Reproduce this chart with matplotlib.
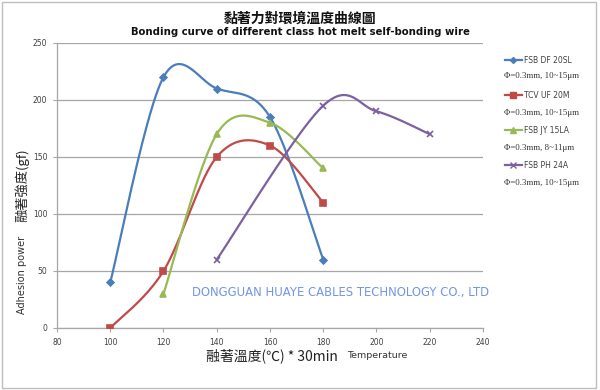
import numpy as np
import matplotlib.pyplot as plt
from matplotlib.patches import Rectangle

# data
series_names = ['FSB DF 20SL', 'TCV UF 20M', 'FSB JY 15LA', 'FSB PH 24A']
series_specs = ['Φ=0.3mm, 10~15μm', 'Φ=0.3mm, 10~15μm', 'Φ=0.3mm, 8~11μm', 'Φ=0.3mm, 10~15μm']
df20sl_x = [100, 120, 140, 160, 180]
df20sl_y = [40, 220, 210, 185, 60]
uf20m_x = [100, 120, 140, 160, 180]
uf20m_y = [0, 50, 150, 160, 110]
jy15la_x = [120, 140, 160, 180]
jy15la_y = [30, 170, 180, 140]
ph24a_x = [140, 180, 200, 220]
ph24a_y = [60, 195, 190, 170]

colors = ['#4A7EBB', '#BE4B48', '#98B954', '#7D60A0']
markers = ['D', 's', '^', 'x']
msizes = [3.5, 4.5, 4.5, 5]


def smooth(xs, ys, n=40):
    """Catmull-Rom style smoothing, roughly like Excel's smoothed lines."""
    p = np.column_stack([xs, ys]).astype(float)
    p = np.vstack([p[0], p, p[-1]])
    out = []
    for i in range(1, len(p) - 2):
        p0, p1, p2, p3 = p[i - 1], p[i], p[i + 1], p[i + 2]
        c1 = p1 + (p2 - p0) / 6
        c2 = p2 - (p3 - p1) / 6
        t = np.linspace(0, 1, n)[:, None]
        seg = ((1 - t) ** 3) * p1 + 3 * ((1 - t) ** 2) * t * c1 + 3 * (1 - t) * t ** 2 * c2 + t ** 3 * p2
        out.append(seg)
    out = np.vstack(out)
    return out[:, 0], out[:, 1]


fig = plt.figure(figsize=(6, 3.9), dpi=100)
ax = fig.add_axes([0.095, 0.159, 0.71, 0.731])

data = [(df20sl_x, df20sl_y), (uf20m_x, uf20m_y), (jy15la_x, jy15la_y), (ph24a_x, ph24a_y)]
handles = []
for (xs, ys), c, m, ms, name in zip(data, colors, markers, msizes, series_names):
    sx, sy = smooth(xs, ys)
    ax.plot(sx, sy, color=c, lw=1.6, zorder=3)
    ax.plot(xs, ys, ls='none', marker=m, color=c, ms=ms, mew=1.2, zorder=4)
    h, = ax.plot([], [], color=c, lw=1.6, marker=m, ms=ms - 0.5, mew=1.0, label=name)
    handles.append(h)

ax.set_xlim(80, 240)
ax.set_ylim(0, 250)
ax.set_xticks(np.arange(80, 241, 20))
ax.set_yticks(np.arange(0, 251, 50))
ax.yaxis.grid(True, color='#a6a6a6', lw=0.9)
ax.set_axisbelow(True)
for s in ['top', 'right']:
    ax.spines[s].set_visible(False)
for s in ['left', 'bottom']:
    ax.spines[s].set_color('#a6a6a6')
    ax.spines[s].set_linewidth(0.9)
ax.tick_params(colors='#a6a6a6', labelcolor='#404040', labelsize=5.5, length=3, width=0.8, pad=4)

# legend
leg = ax.legend(handles=handles, loc='upper left', bbox_to_anchor=(1.044, 0.965), frameon=False,
                fontsize=5.5, handlelength=2.2, handletextpad=0.3, labelspacing=3.4,
                borderaxespad=0)
for t in leg.get_texts():
    t.set_color('#404040')

spec_y = [0.805, 0.71, 0.62, 0.53]
for y, spec in zip(spec_y, series_specs):
    fig.text(0.840, y, spec, fontsize=6.3, family=['Liberation Serif', 'DejaVu Serif'],
             color='#333333', va='center')

# titles
fig.text(0.5, 0.952, '黏著力對環境溫度曲線圖', ha='center', va='center', fontsize=10,
         fontweight='bold', family=['Noto Sans CJK TC', 'DejaVu Sans'], color='#111111')
fig.text(0.5, 0.918, 'Bonding curve of different class hot melt self-bonding wire', ha='center',
         va='center', fontsize=7.3, fontweight='bold', color='#111111')

# axis labels
fig.text(0.037, 0.295, 'Adhesion power', rotation=90, ha='center', va='center', fontsize=7,
         color='#333333')
fig.text(0.037, 0.525, '融著強度(gf)', rotation=90, ha='center', va='center', fontsize=9.5,
         family=['Noto Sans CJK TC', 'DejaVu Sans'], color='#222222')
fig.text(0.453, 0.088, '融著溫度(℃) * 30min', ha='center', va='center', fontsize=10,
         family=['Noto Sans CJK TC', 'DejaVu Sans'], color='#222222')
fig.text(0.628, 0.088, 'Temperature', ha='center', va='center', fontsize=6.8, color='#333333')

# watermark
fig.text(0.567, 0.25, 'DONGGUAN HUAYE CABLES TECHNOLOGY CO., LTD', ha='center', va='center',
         fontsize=8.4, color='#7295e6')

fig.patches.append(Rectangle((0.004, 0.006), 0.99, 0.988, transform=fig.transFigure,
                             fill=False, edgecolor='#bdbdbd', lw=1.0))

fig.savefig('out.png', dpi=100)
